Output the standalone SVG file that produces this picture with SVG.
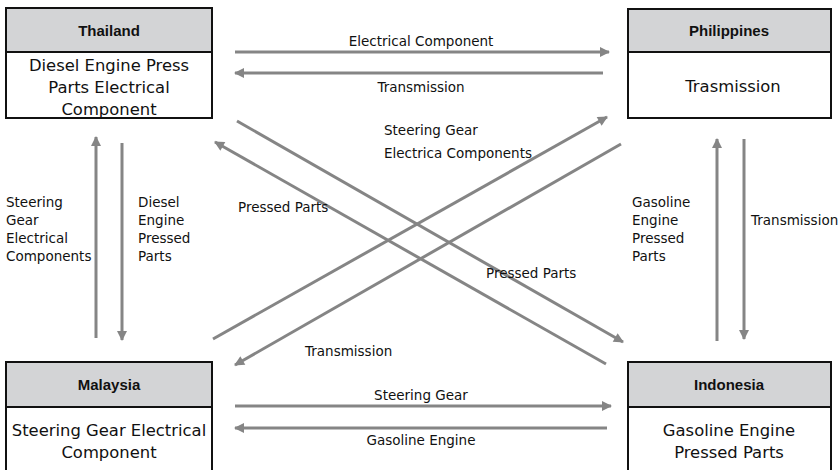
<svg xmlns="http://www.w3.org/2000/svg" width="840" height="470" viewBox="0 0 840 470">
<defs>
<marker id="ah" viewBox="0 0 10 10" refX="9" refY="5" markerWidth="12" markerHeight="10" markerUnits="userSpaceOnUse" orient="auto">
<path d="M0,0 L10,5 L0,10 Z" fill="#858585"/>
</marker>
</defs>
<style>
.box{fill:#fff;stroke:#111;stroke-width:2}
.hdr{fill:#d3d4d6;stroke:#111;stroke-width:2}
.ht{font-family:"Liberation Sans",Arial,sans-serif;font-weight:bold;font-size:15px;fill:#111;text-anchor:middle}
.bt{font-family:"DejaVu Sans",sans-serif;font-size:16.4px;fill:#111;text-anchor:middle}
.lb{font-family:"DejaVu Sans",sans-serif;font-size:13.5px;fill:#111}
.lbm{font-family:"DejaVu Sans",sans-serif;font-size:13.5px;fill:#111;text-anchor:middle}
.ar{stroke:#858585;stroke-width:3;fill:none;marker-end:url(#ah)}
</style>
<g id="thailand">
<rect class="box" x="6" y="8" width="206" height="110"/>
<rect class="hdr" x="6" y="8" width="206" height="44"/>
<text class="ht" x="109" y="36">Thailand</text>
<text class="bt" x="109" y="71">Diesel Engine Press</text>
<text class="bt" x="109" y="93">Parts Electrical</text>
<text class="bt" x="109" y="115">Component</text>
</g>
<g id="philippines">
<rect class="box" x="628" y="9" width="203" height="109"/>
<rect class="hdr" x="628" y="9" width="203" height="43"/>
<text class="ht" x="729" y="36">Philippines</text>
<text class="bt" x="733" y="92">Trasmission</text>
</g>
<g id="malaysia">
<path class="box" d="M6,472 V362 H212 V472"/>
<rect class="hdr" x="6" y="362" width="206" height="45"/>
<text class="ht" x="109" y="390">Malaysia</text>
<text class="bt" x="109" y="436">Steering Gear Electrical</text>
<text class="bt" x="109" y="458">Component</text>
</g>
<g id="indonesia">
<path class="box" d="M628,472 V362 H831 V472"/>
<rect class="hdr" x="628" y="362" width="203" height="45"/>
<text class="ht" x="729" y="390">Indonesia</text>
<text class="bt" x="729" y="436">Gasoline Engine</text>
<text class="bt" x="729" y="458">Pressed Parts</text>
</g>
<g id="connectors">
<line class="ar" x1="235" y1="52" x2="609" y2="52"/>
<line class="ar" x1="603" y1="73" x2="235" y2="73"/>
<line class="ar" x1="235" y1="406" x2="611" y2="406"/>
<line class="ar" x1="607" y1="428" x2="235" y2="428"/>
<line class="ar" x1="96" y1="338" x2="96" y2="137"/>
<line class="ar" x1="122" y1="143" x2="122" y2="340"/>
<line class="ar" x1="717" y1="341" x2="717" y2="139"/>
<line class="ar" x1="744" y1="139" x2="744" y2="339"/>
<line class="ar" x1="237" y1="121" x2="623" y2="342"/>
<line class="ar" x1="606" y1="364" x2="215" y2="142"/>
<line class="ar" x1="213" y1="339" x2="607" y2="117"/>
<line class="ar" x1="621" y1="144" x2="235" y2="365"/>
</g>
<g id="labels">
<text class="lbm" x="421" y="46">Electrical Component</text>
<text class="lbm" x="421" y="92">Transmission</text>
<text class="lbm" x="421" y="400">Steering Gear</text>
<text class="lbm" x="421" y="445">Gasoline Engine</text>
<text class="lb" x="384" y="135">Steering Gear</text>
<text class="lb" x="384" y="158">Electrica Components</text>
<text class="lb" x="238" y="212">Pressed Parts</text>
<text class="lb" x="486" y="278">Pressed Parts</text>
<text class="lb" x="305" y="356">Transmission</text>
<text class="lb" x="6" y="207">Steering</text>
<text class="lb" x="6" y="225">Gear</text>
<text class="lb" x="6" y="243">Electrical</text>
<text class="lb" x="6" y="261">Components</text>
<text class="lb" x="138" y="207">Diesel</text>
<text class="lb" x="138" y="225">Engine</text>
<text class="lb" x="138" y="243">Pressed</text>
<text class="lb" x="138" y="261">Parts</text>
<text class="lb" x="632" y="207">Gasoline</text>
<text class="lb" x="632" y="225">Engine</text>
<text class="lb" x="632" y="243">Pressed</text>
<text class="lb" x="632" y="261">Parts</text>
<text class="lb" x="751" y="225">Transmission</text>
</g>
</svg>
